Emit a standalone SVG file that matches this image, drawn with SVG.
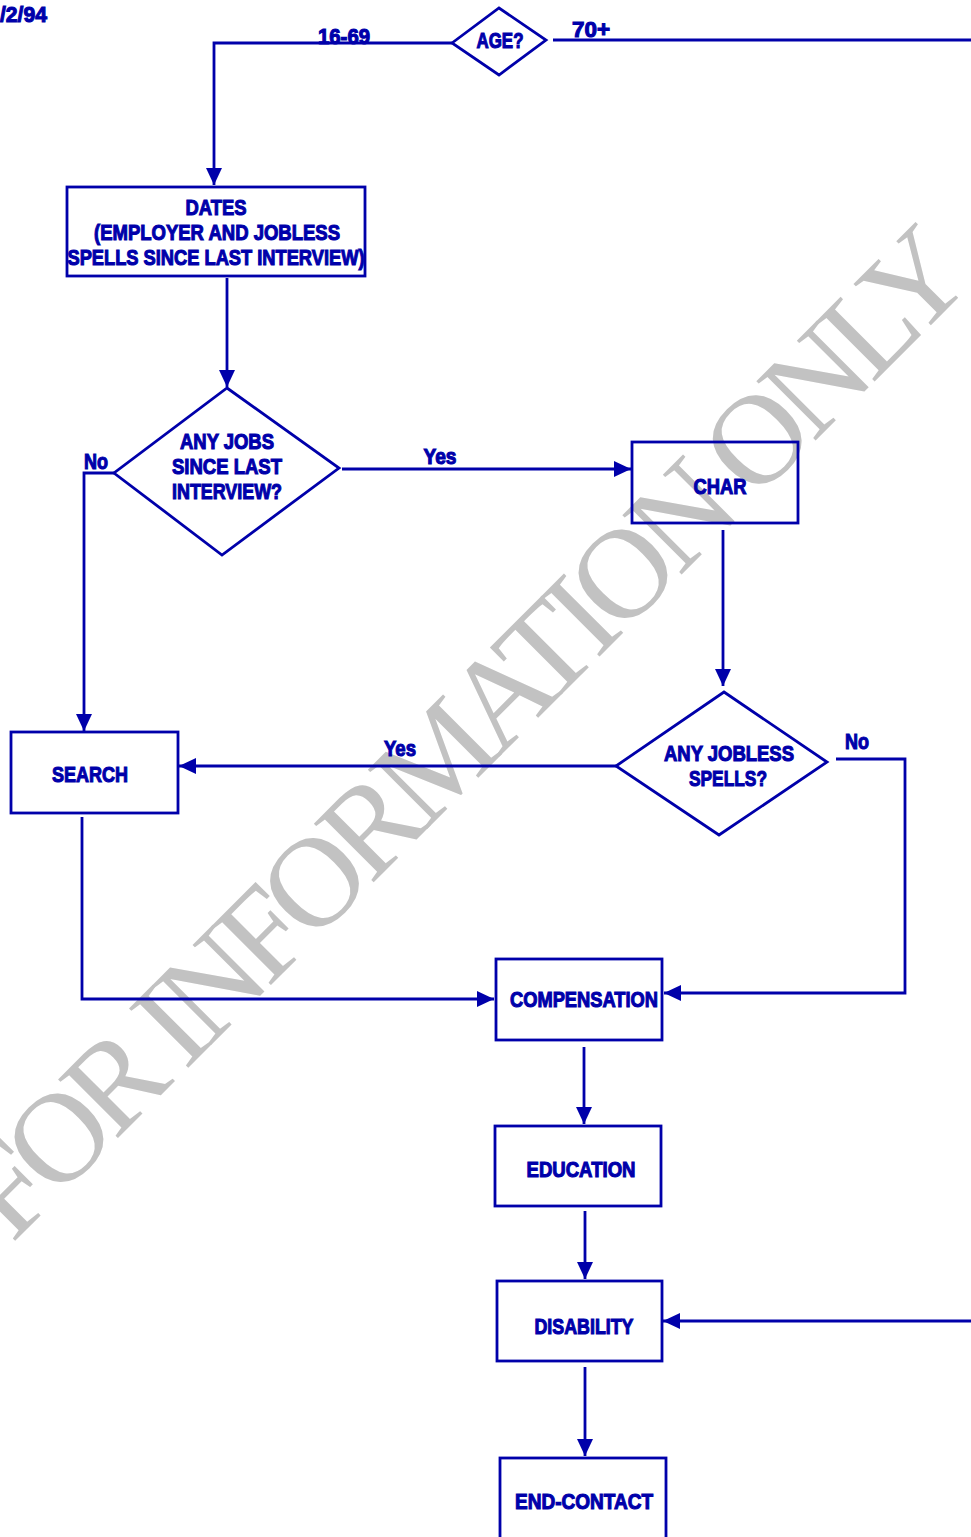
<svg xmlns="http://www.w3.org/2000/svg" width="971" height="1537" viewBox="0 0 971 1537">
<style>
.box{fill:none;stroke:#0000aa;stroke-width:2.8}
.con{fill:none;stroke:#0000aa;stroke-width:2.8}
.t{font-family:"Liberation Sans",Arial,sans-serif;font-weight:bold;font-size:22px;fill:#0000aa;stroke:#0000aa;stroke-width:1.1;text-anchor:middle}
.l{text-anchor:start}
.wm{font-family:"Liberation Serif","Times New Roman",serif;font-size:128px;fill:#c2c2c2}
</style>
<defs>
<marker id="ah" markerUnits="userSpaceOnUse" markerWidth="18" markerHeight="18" refX="17" refY="9" orient="auto">
<path d="M0,1 L17,9 L0,17 z" fill="#0000aa"/>
</marker>
</defs>
<rect width="971" height="1537" fill="#fff"/>
<text class="wm" transform="translate(12,1244) rotate(-45)" textLength="1365">FOR INFORMATION ONLY</text>
<text class="t l" x="0" y="22" textLength="47" lengthAdjust="spacingAndGlyphs">/2/94</text>

<g id="connectors">
<path class="con" d="M452,43 H214 V185" marker-end="url(#ah)"/>
<path class="con" d="M553,40 H971"/>
<path class="con" d="M227,278 V387" marker-end="url(#ah)"/>
<path class="con" d="M342,469 H631" marker-end="url(#ah)"/>
<path class="con" d="M114,473 H84 V731" marker-end="url(#ah)"/>
<path class="con" d="M723,530 V686" marker-end="url(#ah)"/>
<path class="con" d="M616,766 H179" marker-end="url(#ah)"/>
<path class="con" d="M836,759 H905 V993 H664" marker-end="url(#ah)"/>
<path class="con" d="M82,817 V999 H494" marker-end="url(#ah)"/>
<path class="con" d="M584,1047 V1124" marker-end="url(#ah)"/>
<path class="con" d="M585,1211 V1279" marker-end="url(#ah)"/>
<path class="con" d="M971,1321 H663" marker-end="url(#ah)"/>
<path class="con" d="M585,1367 V1456" marker-end="url(#ah)"/>
<text class="t" x="344" y="44" textLength="52" lengthAdjust="spacingAndGlyphs">16-69</text>
<text class="t l" x="572" y="37" textLength="38" lengthAdjust="spacingAndGlyphs">70+</text>
<text class="t" x="440" y="464" textLength="33" lengthAdjust="spacingAndGlyphs">Yes</text>
<text class="t" x="96" y="469" textLength="24" lengthAdjust="spacingAndGlyphs">No</text>
<text class="t" x="400" y="756" textLength="32" lengthAdjust="spacingAndGlyphs">Yes</text>
<text class="t" x="857" y="749" textLength="24" lengthAdjust="spacingAndGlyphs">No</text>
</g>

<g id="age">
<polygon class="box" points="452,43 499,8 546,40 499,75"/>
<text class="t" x="500" y="48" textLength="47" lengthAdjust="spacingAndGlyphs">AGE?</text>
</g>
<g id="dates">
<rect class="box" x="67" y="187" width="298" height="89"/>
<text class="t" x="216" y="215" textLength="61" lengthAdjust="spacingAndGlyphs">DATES</text>
<text class="t" x="217" y="240" textLength="246" lengthAdjust="spacingAndGlyphs">(EMPLOYER AND JOBLESS</text>
<text class="t" x="216" y="265" textLength="297" lengthAdjust="spacingAndGlyphs">SPELLS SINCE LAST INTERVIEW)</text>
</g>
<g id="anyjobs">
<polygon class="box" points="227,388 339,468 222,555 114,473"/>
<text class="t" x="227" y="449" textLength="94" lengthAdjust="spacingAndGlyphs">ANY JOBS</text>
<text class="t" x="227" y="474" textLength="110" lengthAdjust="spacingAndGlyphs">SINCE LAST</text>
<text class="t" x="227" y="499" textLength="110" lengthAdjust="spacingAndGlyphs">INTERVIEW?</text>
</g>
<g id="char">
<rect class="box" x="632" y="442" width="166" height="81"/>
<text class="t" x="720" y="494" textLength="53" lengthAdjust="spacingAndGlyphs">CHAR</text>
</g>
<g id="anyjobless">
<polygon class="box" points="724,692 827,762 719,835 616,766"/>
<text class="t" x="729" y="761" textLength="130" lengthAdjust="spacingAndGlyphs">ANY JOBLESS</text>
<text class="t" x="728" y="786" textLength="78" lengthAdjust="spacingAndGlyphs">SPELLS?</text>
</g>
<g id="search">
<rect class="box" x="11" y="732" width="167" height="81"/>
<text class="t" x="90" y="782" textLength="76" lengthAdjust="spacingAndGlyphs">SEARCH</text>
</g>
<g id="compensation">
<rect class="box" x="496" y="959" width="166" height="81"/>
<text class="t" x="584" y="1007" textLength="148" lengthAdjust="spacingAndGlyphs">COMPENSATION</text>
</g>
<g id="education">
<rect class="box" x="495" y="1126" width="166" height="80"/>
<text class="t" x="581" y="1177" textLength="109" lengthAdjust="spacingAndGlyphs">EDUCATION</text>
</g>
<g id="disability">
<rect class="box" x="497" y="1281" width="165" height="80"/>
<text class="t" x="584" y="1334" textLength="99" lengthAdjust="spacingAndGlyphs">DISABILITY</text>
</g>
<g id="endcontact">
<rect class="box" x="500" y="1458" width="166" height="90"/>
<text class="t" x="584" y="1509" textLength="138" lengthAdjust="spacingAndGlyphs">END-CONTACT</text>
</g>
</svg>
